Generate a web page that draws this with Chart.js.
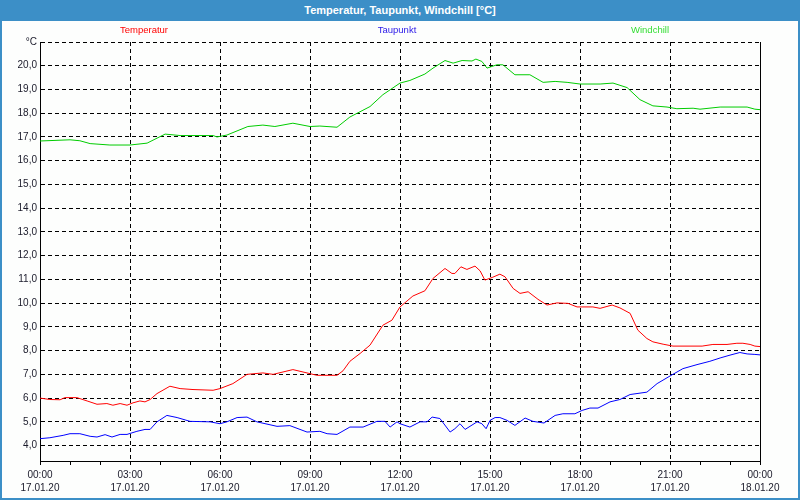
<!DOCTYPE html>
<html>
<head>
<meta charset="utf-8">
<script src="https://cdn.jsdelivr.net/npm/chart.js@4/dist/chart.umd.min.js"></script>
<style>
  html, body { margin: 0; padding: 0; background: #ffffff; }
  #wrap { position: relative; width: 800px; height: 500px; overflow: hidden; background: #fdfefd; }
  #c { position: absolute; left: 0; top: 0; }
  #titlebar { position: absolute; left: 0; top: 0; width: 800px; height: 21px; background: #3c8fc7;
    color: #ffffff; font: bold 11px "Liberation Sans", Arial, sans-serif; line-height: 21px; text-align: center; }
  #frame { position: absolute; left: 0; top: 0; width: 800px; height: 500px; box-sizing: border-box;
    border: 2px solid #3c8fc7; border-top: none; pointer-events: none; }
  .leg { position: absolute; top: 24px; font: 9.5px "Liberation Sans", Arial, sans-serif; line-height: 12px;
    transform: translateX(-50%); white-space: nowrap; }
</style>
</head>
<body>
<div id="wrap">
  <canvas id="c" width="800" height="500"></canvas>
  <div id="titlebar">Temperatur, Taupunkt, Windchill [°C]</div>
  <div class="leg" style="left:144px;color:#ff0000">Temperatur</div>
  <div class="leg" style="left:397px;color:#2a18e8">Taupunkt</div>
  <div class="leg" style="left:650px;color:#33dd33">Windchill</div>
  <div id="frame"></div>
</div>
<script>
// Time in hours since 17.01.20 00:00
const tempHours = [0,0.33,0.67,0.83,1.23,1.57,1.9,2.23,2.43,2.67,2.9,3.1,3.33,3.5,3.67,3.9,4.33,4.67,5.1,5.77,6.0,6.43,6.9,7.43,7.77,8.1,8.43,8.9,9.23,9.9,10.1,10.33,10.67,11.0,11.43,11.73,12.0,12.43,12.83,13.1,13.5,13.73,13.83,14.03,14.23,14.5,14.67,14.83,15.07,15.33,15.5,15.77,16.0,16.27,16.6,16.9,17.23,17.6,17.9,18.43,18.67,19.07,19.33,19.67,19.93,20.23,20.43,20.77,21.1,22.07,22.43,22.9,23.23,23.43,23.67,23.83,24];
const tempValues = [6.0,5.94,5.93,6.02,6.02,5.88,5.74,5.77,5.70,5.77,5.70,5.80,5.88,5.84,5.94,6.19,6.50,6.40,6.36,6.33,6.40,6.61,7.0,7.06,7.0,7.10,7.2,7.06,6.96,6.96,7.15,7.55,7.88,8.23,9.07,9.28,9.84,10.30,10.52,11.04,11.46,11.25,11.25,11.53,11.42,11.56,11.36,10.97,11.08,11.22,11.11,10.62,10.41,10.48,10.16,9.92,10.01,9.99,9.84,9.84,9.78,9.92,9.80,9.57,8.86,8.51,8.37,8.27,8.19,8.19,8.26,8.26,8.31,8.31,8.26,8.19,8.17];

const dewHours = [0,0.33,0.77,1.0,1.33,1.67,1.9,2.17,2.4,2.67,2.9,3.23,3.5,3.67,3.9,4.23,4.57,5.0,5.67,6.0,6.23,6.57,6.9,7.23,7.9,8.33,8.9,9.33,9.57,9.9,10.33,10.77,11.23,11.5,11.67,11.9,12.0,12.33,12.67,12.9,13.07,13.33,13.67,13.83,14.0,14.17,14.57,14.73,14.87,15.0,15.17,15.33,15.57,15.83,16.17,16.43,16.8,17.17,17.43,17.83,18.07,18.33,18.6,19.0,19.33,19.67,20.23,20.57,21.0,21.43,21.9,22.33,22.67,23.0,23.33,23.57,23.83,24];
const dewValues = [4.29,4.33,4.43,4.50,4.50,4.39,4.36,4.46,4.36,4.47,4.47,4.60,4.68,4.68,5.0,5.27,5.18,5.02,5.0,4.92,5.0,5.18,5.20,5.0,4.81,4.84,4.57,4.60,4.50,4.47,4.78,4.78,5.02,5.02,4.78,5.0,4.92,4.78,5.0,5.0,5.2,5.14,4.57,4.71,4.92,4.68,5.0,4.92,4.71,5.06,5.18,5.18,5.06,4.85,5.16,5.02,4.95,5.27,5.34,5.34,5.48,5.58,5.58,5.84,5.94,6.15,6.25,6.61,6.93,7.24,7.41,7.55,7.69,7.81,7.92,7.86,7.84,7.82];

const chillHours = [0,1.0,1.33,1.67,2.33,3.0,3.57,4.17,4.67,5.77,5.9,6.23,6.93,7.43,7.83,8.43,9.0,9.33,9.9,10.33,11.0,11.43,12.0,12.33,12.83,13.1,13.5,13.77,14.07,14.4,14.53,14.73,14.9,15.23,15.43,15.83,16.33,16.77,17.17,17.57,18.0,18.67,19.1,19.57,20.0,20.43,20.9,21.23,21.77,22.0,22.67,23.57,23.83,24];
const chillValues = [16.83,16.88,16.84,16.72,16.66,16.66,16.74,17.12,17.06,17.06,17.0,17.08,17.44,17.5,17.44,17.58,17.44,17.46,17.41,17.84,18.28,18.78,19.27,19.38,19.65,19.9,20.22,20.11,20.22,20.2,20.28,20.18,19.9,20.04,20.04,19.62,19.62,19.3,19.34,19.3,19.23,19.23,19.27,19.08,18.57,18.31,18.26,18.19,18.21,18.17,18.26,18.26,18.17,18.15];

const yTicks = [4,5,6,7,8,9,10,11,12,13,14,15,16,17,18,19,20,21];
const timeLabels = {0:"00:00",3:"03:00",6:"06:00",9:"09:00",12:"12:00",15:"15:00",18:"18:00",21:"21:00",24:"00:00"};
const dateLabels = {0:"17.01.20",3:"17.01.20",6:"17.01.20",9:"17.01.20",12:"17.01.20",15:"17.01.20",18:"17.01.20",21:"17.01.20",24:"18.01.20"};

const toPts = (xs, ys) => xs.map((x, i) => ({x: x, y: ys[i]}));
const FONT = {family: '"Liberation Sans", Arial, sans-serif', size: 10, lineHeight: 1.35};

const framePlugin = {
  id: 'frame',
  afterDraw(chart) {
    const {ctx, chartArea: a} = chart;
    ctx.save();
    ctx.strokeStyle = '#000';
    ctx.lineWidth = 1;
    ctx.setLineDash([]);
    ctx.beginPath();
    ctx.moveTo(Math.round(a.right) + 0.5, a.top);
    ctx.lineTo(Math.round(a.right) + 0.5, a.bottom);
    ctx.stroke();
    ctx.restore();
  }
};

new Chart(document.getElementById('c'), {
  type: 'line',
  data: {
    datasets: [
      {label: 'Temperatur', data: toPts(tempHours, tempValues), borderColor: '#ff0000', borderWidth: 1, pointRadius: 0, tension: 0, fill: false},
      {label: 'Taupunkt', data: toPts(dewHours, dewValues), borderColor: '#0000ff', borderWidth: 1, pointRadius: 0, tension: 0, fill: false},
      {label: 'Windchill', data: toPts(chillHours, chillValues), borderColor: '#00cc00', borderWidth: 1, pointRadius: 0, tension: 0, fill: false}
    ]
  },
  options: {
    responsive: false,
    animation: false,
    devicePixelRatio: 1,
    layout: {padding: {left: 0, right: 40, top: 42, bottom: 0}},
    plugins: {legend: {display: false}, title: {display: false}, tooltip: {enabled: false}},
    scales: {
      x: {
        type: 'linear', min: 0, max: 24,
        afterFit(scale) { scale.height = 39; },
        ticks: {
          stepSize: 1, autoSkip: false, maxRotation: 0, minRotation: 0, padding: 3,
          color: '#1a1a2a', font: FONT,
          callback: (v) => (v % 3 === 0 ? [timeLabels[v], dateLabels[v]] : '')
        },
        grid: {
          color: (ctx) => (ctx.tick && ctx.tick.value % 3 === 0 ? '#000000' : 'rgba(0,0,0,0)'),
          tickColor: '#000000', tickLength: 4, lineWidth: 1
        },
        border: {display: true, color: '#000000', width: 1, dash: [4, 3]}
      },
      y: {
        type: 'linear', min: 3.35, max: 21,
        afterFit(scale) { scale.width = 40; },
        afterBuildTicks(axis) { axis.ticks = yTicks.map(v => ({value: v})); },
        ticks: {
          padding: 3, color: '#1a1a2a', font: FONT,
          callback: (v) => (v === 21 ? '°C' : v.toFixed(1).replace('.', ','))
        },
        grid: {color: '#000000', drawTicks: false, lineWidth: 1},
        border: {display: true, color: '#000000', width: 1, dash: [4, 3]}
      }
    }
  },
  plugins: [framePlugin]
});
</script>
</body>
</html>
